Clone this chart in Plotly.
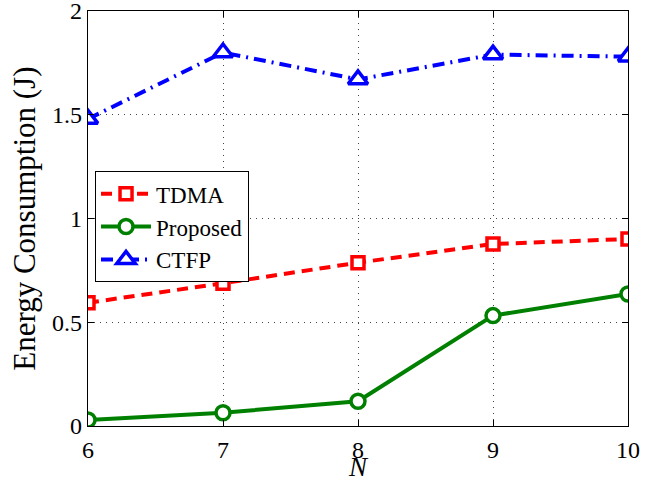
import plotly.graph_objects as go

N = [6, 7, 8, 9, 10]
tdma = [0.594, 0.688, 0.787, 0.877, 0.901]
proposed = [0.029, 0.064, 0.119, 0.532, 0.636]
ctfp = [1.48, 1.80, 1.67, 1.79, 1.78]

x_ticks = [6, 7, 8, 9, 10]
y_ticks = [0, 0.5, 1, 1.5, 2]
y_ticklabels = ["0", "0.5", "1", "1.5", "2"]

FONT = "Liberation Serif"

fig = go.Figure()
fig.add_trace(go.Scatter(
    x=N, y=tdma, name="TDMA", mode="lines+markers",
    line=dict(color="#ff0000", width=4, dash="11px,7px"),
    marker=dict(symbol="square", size=12, color="white",
                line=dict(color="#ff0000", width=3.5))))
fig.add_trace(go.Scatter(
    x=N, y=proposed, name="Proposed", mode="lines+markers",
    line=dict(color="#008000", width=4),
    marker=dict(symbol="circle", size=14, color="white",
                line=dict(color="#008000", width=3.5))))
fig.add_trace(go.Scatter(
    x=N, y=ctfp, name="CTFP", mode="lines+markers",
    line=dict(color="#0000ff", width=4, dash="12px,6px,2px,6px"),
    marker=dict(symbol="triangle-up", size=17, color="white",
                line=dict(color="#0000ff", width=3.5))))

axis_common = dict(
    showline=True, linecolor="black", linewidth=1.2, mirror="ticks",
    ticks="inside", ticklen=6, tickcolor="black",
    showgrid=True, gridcolor="#444444", griddash="1px,5px", gridwidth=1,
    zeroline=False, automargin=False, ticklabeloverflow="allow",
    tickfont=dict(family=FONT, size=24, color="black"),
)

fig.update_xaxes(range=[6, 10], tickvals=x_ticks, ticktext=[str(v) for v in x_ticks],
                 ticklabelstandoff=2, **axis_common)
fig.update_yaxes(range=[0, 2], tickvals=y_ticks, ticktext=y_ticklabels,
                 ticklabelstandoff=0, **axis_common)

fig.add_annotation(text="Energy Consumption (J)", xref="paper", yref="paper",
                   x=-0.118, y=0.5, xanchor="center", yanchor="middle", textangle=-90,
                   showarrow=False, font=dict(family=FONT, size=31, color="black"))
fig.add_annotation(text="<i>N</i>", xref="paper", yref="paper",
                   x=0.5, y=-0.1398, xanchor="center", yanchor="bottom",
                   showarrow=False, font=dict(family=FONT, size=27, color="black"))

fig.update_layout(
    width=656, height=485,
    margin=dict(l=88, r=28, t=11, b=59),
    paper_bgcolor="white", plot_bgcolor="white",
    font=dict(family=FONT, color="black"),
    legend=dict(x=0.013, y=0.614, xanchor="left", yanchor="top",
                bgcolor="white", bordercolor="black", borderwidth=1,
                font=dict(family=FONT, size=23, color="black"),
                itemwidth=50, tracegroupgap=0),
    showlegend=True,
)

fig.write_html("out.html", config={"displayModeBar": False},
               post_script="document.body.style.margin='0';document.body.style.overflow='hidden';")
